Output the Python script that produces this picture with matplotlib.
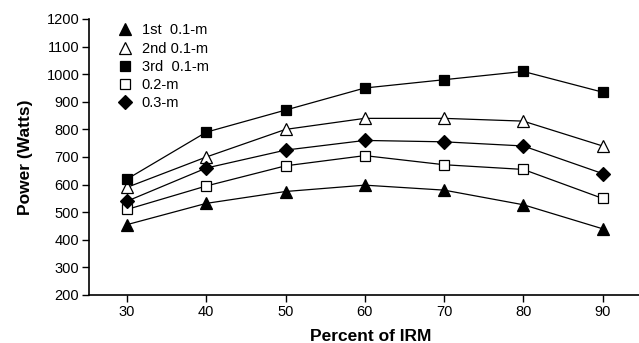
import matplotlib.pyplot as plt

plt.rcParams['font.family'] = ['Liberation Sans', 'DejaVu Sans']

# percent of IRM
irm = [30, 40, 50, 60, 70, 80, 90]

# power (W) for each split
first_01 = [455, 532, 575, 598, 580, 527, 440]
second_01 = [590, 700, 800, 840, 840, 830, 740]
third_01 = [620, 790, 870, 950, 980, 1010, 935]
seg_02 = [510, 595, 668, 705, 672, 655, 550]
seg_03 = [540, 660, 725, 760, 755, 740, 640]

labels = ['1st  0.1-m', '2nd 0.1-m', '3rd  0.1-m', '0.2-m', '0.3-m']

W, H = 639, 343
fig = plt.figure(figsize=(W / 100, H / 100), dpi=100)
ax = fig.add_axes([89 / W, 1 - 295 / H, 1 - 89 / W, 276 / H])

styles = [
    (first_01, '^', 'black', 8),
    (second_01, '^', 'white', 8),
    (third_01, 's', 'black', 7.2),
    (seg_02, 's', 'white', 7.2),
    (seg_03, 'D', 'black', 7),
]
for (vals, mk, fc, ms), lab in zip(styles, labels):
    ax.plot(irm, vals, color='black', lw=0.9, marker=mk, ms=ms,
            mfc=fc, mec='black', mew=0.9, label=lab)

ax.set_xlim(25.2, 94.6)
ax.set_ylim(200, 1200)
ax.set_xticks(irm)
ax.set_yticks(range(200, 1201, 100))
ax.spines['top'].set_visible(False)
ax.spines['right'].set_visible(False)
ax.spines['left'].set_linewidth(1.2)
ax.spines['bottom'].set_linewidth(1.2)
ax.tick_params(direction='out', length=5, width=1.0, labelsize=10.5, pad=2)

ax.set_xlabel('Percent of IRM', fontsize=12.5, fontweight='bold')
ax.set_ylabel('Power (Watts)', fontsize=12.5, fontweight='bold')
ax.xaxis.set_label_coords(0.513, -0.123)
ax.yaxis.set_label_coords(-0.102, 0.5)

ax.legend(loc='upper left', bbox_to_anchor=(125 / W, 1 - 23.5 / H),
          bbox_transform=fig.transFigure, frameon=False,
          fontsize=10.5, handlelength=0, handletextpad=1.15,
          labelspacing=0.29, borderaxespad=0, borderpad=0)

fig.savefig('out.png', dpi=100)
